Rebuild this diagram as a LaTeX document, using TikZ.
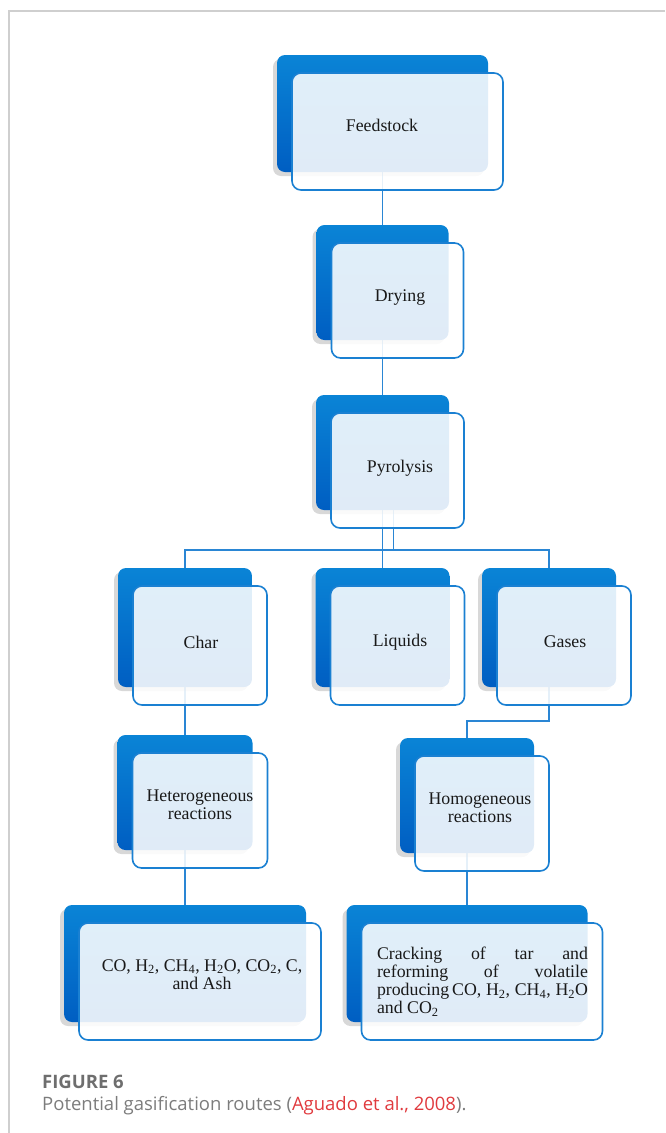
\documentclass[tikz,border=0pt]{standalone}
\usepackage{fontspec}
\setmainfont{Liberation Serif}
\newfontfamily\capfont{Open Sans}
\usetikzlibrary{shadows,backgrounds}
\definecolor{bluetop}{HTML}{0A84D6}
\definecolor{bluebot}{HTML}{005EC2}
\definecolor{edgeblue}{HTML}{1A80D2}
\definecolor{linkblue}{HTML}{2A86D4}
\definecolor{framegray}{HTML}{CFCFCF}
\definecolor{capgray}{HTML}{6E6E6E}
\definecolor{capred}{HTML}{E03A3E}
\newcommand\pairbox[5]{%
  \node[backbox, minimum width=#4, minimum height=#5] (#1B) at (#2,#3) {};
  \node[frontbox, minimum width=#4, minimum height=#5] (#1F) at ({#2+15},{#3+18}) {};
}
\begin{document}
\begin{tikzpicture}[x=1pt,y=-1pt,
  backbox/.style={draw=none, top color=bluetop, bottom color=bluebot,
    rounded corners=8pt, inner sep=0pt,
    drop shadow={shadow xshift=-4pt, shadow yshift=-4pt, opacity=0.22, fill=black!70}},
  frontbox/.style={draw=edgeblue, line width=1.6pt, fill=white, fill opacity=0.88,
    rounded corners=9pt, inner sep=0pt},
  lbl/.style={font=\fontsize{17.8}{18}\selectfont, align=center, inner sep=0pt, text=black!90},
  link/.style={draw=linkblue, line width=1.5pt}]
\useasboundingbox (0,0) rectangle (665,1133);
\draw[framegray, line width=2pt] (9,1133) -- (9,11) -- (665,11);

\pairbox{feed}{382.5}{113.5}{211}{117}
\pairbox{dry}{382.5}{282.5}{132}{115}
\pairbox{pyr}{382.5}{452.5}{133}{115}
\pairbox{char}{185}{627.5}{134}{119}
\pairbox{liq}{382.5}{627.5}{134}{119}
\pairbox{gas}{549}{627.5}{134}{119}
\pairbox{het}{185}{792.5}{135}{115}
\pairbox{hom}{467}{795.5}{134}{115}
\pairbox{coa}{185}{963.5}{242}{117}
\pairbox{cra}{467}{963.5}{241}{117}

\node[lbl] (feedT) at (382,125) {Feedstock};
\node[lbl] (dryT) at (400,298) {Drying};
\node[lbl] (pyrT) at (400,468) {Pyrolysis};
\node[lbl] (charT) at (201,642) {Char};
\node[lbl] (liqT) at (400,642) {Liquids};
\node[lbl] (gasT) at (565,642) {Gases};
\node[lbl] (hetT) at (200,805) {Heterogeneous\\reactions};
\node[lbl] (homT) at (480,808) {Homogeneous\\reactions};
\node[lbl] (coaT) at (202,974.5) {CO, H\textsubscript{2}, CH\textsubscript{4}, H\textsubscript{2}O, CO\textsubscript{2}, C,\\and Ash};
\node[lbl, text width=211pt, align=justify] (craT) at (482.5,982)
  {Cracking of tar and\linebreak reforming of volatile\linebreak producing\,CO, H\textsubscript{2}, CH\textsubscript{4}, H\textsubscript{2}O\linebreak and CO\textsubscript{2}};

\coordinate (bus) at (393.5,550);
\coordinate (elb) at (549,721);
\begin{scope}[on background layer]
\draw[link] (feedB.center) -- (dryB.center) -- (pyrB.center) -- (liqB.center);
\draw[link] ([xshift=11pt]pyrB.center) -- (bus);
\draw[link] (charB.center) |- (bus) -| (gasB.center);
\draw[link] (charB.center) -- (hetB.center) -- (coaB.center);
\draw[link] (gasB.center) -- (elb) -| (homB.center);
\draw[link] (homB.center) -- (craB.center);
\end{scope}

\node[anchor=base west, inner sep=0pt, font=\capfont\bfseries\fontsize{18.5}{20}\selectfont, text=capgray] (figno) at (42,1088) {FIGURE 6};
\node[anchor=base west, inner sep=0pt, font=\capfont\fontsize{18.5}{20}\selectfont, text=capgray!90] (cap) at (42,1110)
  {Potential gasification routes (\textcolor{capred}{Aguado et al., 2008}).};
\end{tikzpicture}
\end{document}
